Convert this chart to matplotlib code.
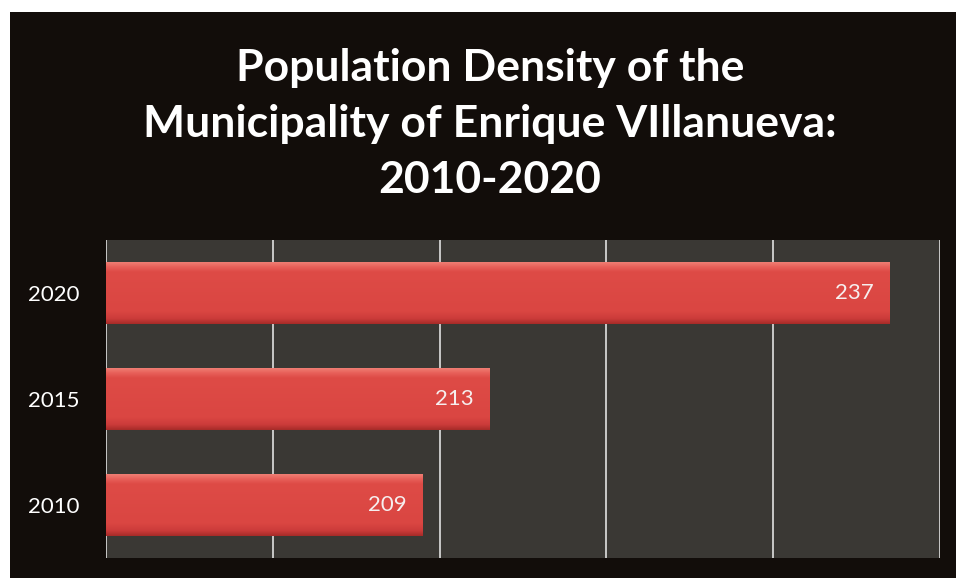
import numpy as np
import matplotlib
matplotlib.use("Agg")
import matplotlib.pyplot as plt
from matplotlib.patches import Rectangle

# population density per year
years = ["2010", "2015", "2020"]
density = [209, 213, 237]

title = "Population Density of the\nMunicipality of Enrique VIllanueva:\n2010-2020"

W, H = 956, 578
fig = plt.figure(figsize=(W / 100, H / 100), dpi=100, facecolor="white")

# black panel behind everything
fig.patches.append(Rectangle((10 / W, 0), 1 - 10 / W, 1 - 12 / H,
                             transform=fig.transFigure, facecolor="#120d0a",
                             edgecolor="none", zorder=-10))

fig.text(490 / W, 1 - 124 / H, title, ha="center", va="center",
         fontsize=32, fontweight="bold", family="Lato", color="white",
         linespacing=1.48)

ax = fig.add_axes([106 / W, 1 - 558 / H, (940 - 106) / W, (558 - 240) / H])
ax.set_facecolor("#3a3834")
for s in ax.spines.values():
    s.set_visible(False)

xmin, xmax = 190, 240
y = np.arange(len(years))
bar_h = 0.58
bars = ax.barh(y, density, height=bar_h, left=0, color="#d9433f", zorder=2)

# fake 3d shading on each bar: dark bottom, red body, light top edge
grad = np.linspace(0, 1, 64).reshape(-1, 1)
cmap = matplotlib.colors.LinearSegmentedColormap.from_list(
    "bev", [(0, "#a82c29"), (0.08, "#cb3b3a"), (0.2, "#da4642"),
            (0.85, "#de4b46"), (0.93, "#e8615a"), (1, "#ef7c72")])
for b in bars:
    y0 = b.get_y()
    ax.imshow(grad, extent=[xmin, b.get_width(), y0, y0 + b.get_height()],
              origin="lower", cmap=cmap, aspect="auto", zorder=3,
              interpolation="bilinear")

for yi, v in zip(y, density):
    ax.text(v - 0.95, yi, str(v), ha="right", va="center", color="#f6eeee",
            fontsize=16, family="Lato", zorder=4)

ax.set_xlim(xmin, xmax)
ax.set_ylim(-0.5, len(years) - 0.5)
ax.set_xticks(np.arange(xmin, xmax + 1, 10))
ax.xaxis.grid(True, color="#c8c8c8", linewidth=1.4, zorder=1)
ax.tick_params(axis="x", length=0, labelbottom=False)
ax.set_yticks(y)
ax.set_yticklabels(years, fontsize=16, family="Lato", color="white")
ax.tick_params(axis="y", length=0, pad=19)
ax.set_axisbelow(True)

fig.savefig("out.png", dpi=100, facecolor=fig.get_facecolor())
